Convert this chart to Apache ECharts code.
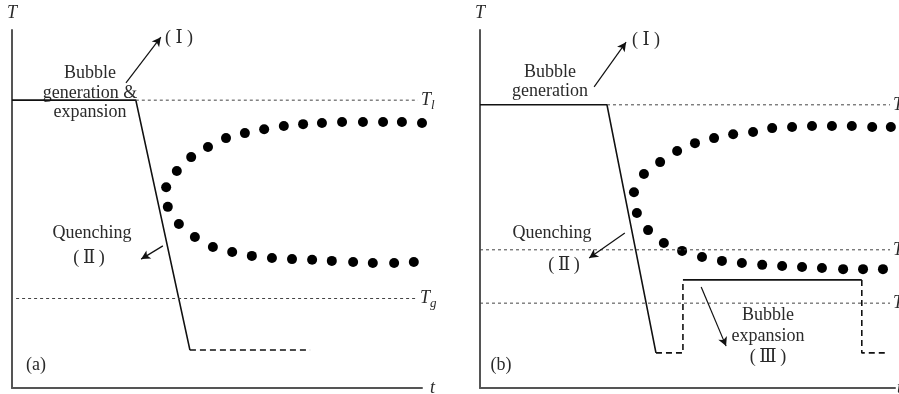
<!DOCTYPE html>
<html>
<head>
<meta charset="utf-8">
<script src="https://cdn.jsdelivr.net/npm/echarts@6/dist/echarts.min.js"></script>
<style>
  html, body { margin: 0; padding: 0; background: #fff; }
  #chart { width: 899px; height: 394px; }
</style>
</head>
<body>
<div id="chart"></div>
<script>
// ---- Panel (a): bubble generation & expansion in one stage ----
const aTl = 80.4;            // liquid-side reference temperature
const aTg = 25;              // glass transition temperature
const aSolid = [[0, 80.4], [30.2, 80.4], [43.4, 10.6]];
const aDashed = [[43.4, 10.6], [72.7, 10.6]];
const aUpperT = [37.6, 40.2, 43.7, 47.8, 52.2, 56.8, 61.5, 66.3, 71.0, 75.6, 80.5, 85.6, 90.5, 95.1, 100];
const aUpperV = [56.1, 60.6, 64.5, 67.3, 69.8, 71.2, 72.3, 73.2, 73.7, 74.0, 74.3, 74.3, 74.3, 74.3, 74.0];
const aLowerT = [38.0, 40.7, 44.6, 49.0, 53.7, 58.5, 63.4, 68.3, 73.2, 78.0, 83.2, 88.0, 93.2, 98.0];
const aLowerV = [50.6, 45.8, 42.2, 39.4, 38.0, 36.9, 36.3, 36.0, 35.8, 35.5, 35.2, 34.9, 34.9, 35.2];

// ---- Panel (b): generation, quenching, then expansion ----
const bTl = 79.1;
const bTmid = 38.6;
const bTlow = 23.7;
const bSolid = [[0, 79.1], [30.6, 79.1], [42.4, 9.8]];
const bDashed1 = [[42.4, 9.8], [48.9, 9.8], [48.9, 30.2]];
const bPlateau = [[48.9, 30.2], [92.0, 30.2]];
const bDashed2 = [[92.0, 30.2], [92.0, 9.8], [97.6, 9.8]];
const bUpperT = [37.1, 39.5, 43.4, 47.5, 51.8, 56.4, 61.0, 65.8, 70.4, 75.2, 80.0, 84.8, 89.6, 94.5, 99.0];
const bUpperV = [54.7, 59.8, 63.1, 66.2, 68.4, 69.8, 70.9, 71.5, 72.6, 72.9, 73.2, 73.2, 73.2, 72.9, 72.9];
const bLowerT = [37.8, 40.5, 44.3, 48.7, 53.5, 58.3, 63.1, 68.0, 72.8, 77.6, 82.4, 87.5, 92.3, 97.1];
const bLowerV = [48.9, 44.1, 40.5, 38.3, 36.6, 35.5, 34.9, 34.4, 34.1, 33.8, 33.5, 33.2, 33.2, 33.2];

// annotation arrows: [from, to] in (t, T)
const aArrows = [[[27.8, 85.2], [36.3, 98.0]], [[36.8, 39.7], [31.5, 36.0]]];
const bArrows = [[[27.5, 84.1], [35.2, 96.6]], [[34.9, 43.3], [26.3, 36.3]], [[53.3, 28.2], [59.3, 11.7]]];

const SERIF = '"Liberation Serif", "DejaVu Serif", "Noto Sans CJK SC", serif';
const TXT = '#2a2a2a';

const zip = (xs, ys) => xs.map((x, i) => [x, ys[i]]);

function axisPair(idx, tGap) {
  return {
    x: {
      type: 'value', gridIndex: idx, min: 0, max: 100,
      axisLine: { show: true, onZero: false, lineStyle: { color: '#555', width: 2 } },
      axisTick: { show: false }, axisLabel: { show: false }, splitLine: { show: false },
      name: 't', nameLocation: 'end', nameGap: tGap,
      nameTextStyle: { fontFamily: SERIF, fontStyle: 'italic', fontSize: 18, color: TXT, verticalAlign: 'middle' }
    },
    y: {
      type: 'value', gridIndex: idx, min: 0, max: 100,
      axisLine: { show: true, onZero: false, lineStyle: { color: '#555', width: 2 } },
      axisTick: { show: false }, axisLabel: { show: false }, splitLine: { show: false },
      name: 'T', nameLocation: 'end', nameGap: 8,
      nameTextStyle: { fontFamily: SERIF, fontStyle: 'italic', fontSize: 18, color: TXT, align: 'center' }
    }
  };
}

function line(idx, data, opts) {
  return Object.assign({
    type: 'line', xAxisIndex: idx, yAxisIndex: idx, data: data,
    symbol: 'none', silent: true, animation: false,
    lineStyle: { color: '#111', width: 1.6 }
  }, opts || {});
}

function refLine(idx, x0, x1, y, sub) {
  return line(idx, [[x0, y], [x1, y]], {
    lineStyle: { color: '#444', width: 1, type: [3, 3] },
    endLabel: {
      show: true, distance: 3,
      formatter: '{i|T}{s|' + sub + '}',
      rich: {
        i: { fontFamily: SERIF, fontStyle: 'italic', fontSize: 18, color: TXT },
        s: { fontFamily: SERIF, fontStyle: 'italic', fontSize: 13, color: TXT, verticalAlign: 'bottom', padding: [10, 0, 0, 0] }
      }
    }
  });
}

function dots(idx, data) {
  return {
    type: 'scatter', xAxisIndex: idx, yAxisIndex: idx, data: data,
    symbol: 'circle', symbolSize: 10, silent: true, animation: false,
    itemStyle: { color: '#000', opacity: 1 }
  };
}

function arrows(idx, list) {
  return {
    type: 'line', xAxisIndex: idx, yAxisIndex: idx, data: [], silent: true, animation: false,
    markLine: {
      silent: true, animation: false,
      symbol: ['none', 'arrow'], symbolSize: [7, 9],
      label: { show: false },
      lineStyle: { color: '#111', width: 1.2, type: 'solid' },
      data: list.map(p => [{ coord: p[0] }, { coord: p[1] }])
    }
  };
}

const A = axisPair(0, 8), B = axisPair(1, 2);

function text(x, y, s, extra) {
  return {
    type: 'text', x: x, y: y, silent: true,
    style: Object.assign({
      text: s, fontFamily: SERIF, fontSize: 18, fill: TXT,
      align: 'center', verticalAlign: 'middle', lineHeight: 19.5
    }, extra || {})
  };
}

const option = {
  backgroundColor: '#fff',
  animation: false,
  grid: [
    { left: 12, top: 30, width: 410, height: 358, outerBoundsMode: 'none', containLabel: false },
    { left: 480, top: 30, width: 415, height: 358, outerBoundsMode: 'none', containLabel: false }
  ],
  xAxis: [A.x, B.x],
  yAxis: [A.y, B.y],
  series: [
    // panel (a)
    line(0, aSolid),
    line(0, aDashed, { lineStyle: { color: '#111', width: 1.6, type: [6, 4] } }),
    refLine(0, 30.2, 99.0, aTl, 'l'),
    refLine(0, 1, 98.8, aTg, 'g'),
    dots(0, zip(aUpperT, aUpperV)),
    dots(0, zip(aLowerT, aLowerV)),
    arrows(0, aArrows),
    // panel (b)
    line(1, bSolid),
    line(1, bDashed1, { lineStyle: { color: '#111', width: 1.6, type: [6, 4] } }),
    line(1, bPlateau),
    line(1, bDashed2, { lineStyle: { color: '#111', width: 1.6, type: [6, 4] } }),
    refLine(1, 30.6, 98.8, bTl, 'l'),
    refLine(1, 0, 98.8, bTmid, 'g'),
    refLine(1, 0, 98.8, bTlow, 'c'),
    dots(1, zip(bUpperT, bUpperV)),
    dots(1, zip(bLowerT, bLowerV)),
    arrows(1, bArrows)
  ],
  graphic: [
    text(90, 93, 'Bubble\ngeneration &\nexpansion'),
    text(179, 38, '( Ⅰ )'),
    text(92, 233, 'Quenching'),
    text(89, 258, '(\u2009Ⅱ\u2009)'),
    text(36, 365, '(a)'),
    text(550, 82, 'Bubble\ngeneration'),
    text(646, 40, '( Ⅰ )'),
    text(552, 233, 'Quenching'),
    text(564, 265, '(\u2009Ⅱ\u2009)'),
    text(768, 336, 'Bubble\nexpansion\n(\u2009Ⅲ\u2009)', { lineHeight: 21 }),
    text(501, 365, '(b)')
  ]
};

const chart = echarts.init(document.getElementById('chart'), null, { renderer: 'canvas' });
chart.setOption(option);
</script>
</body>
</html>
